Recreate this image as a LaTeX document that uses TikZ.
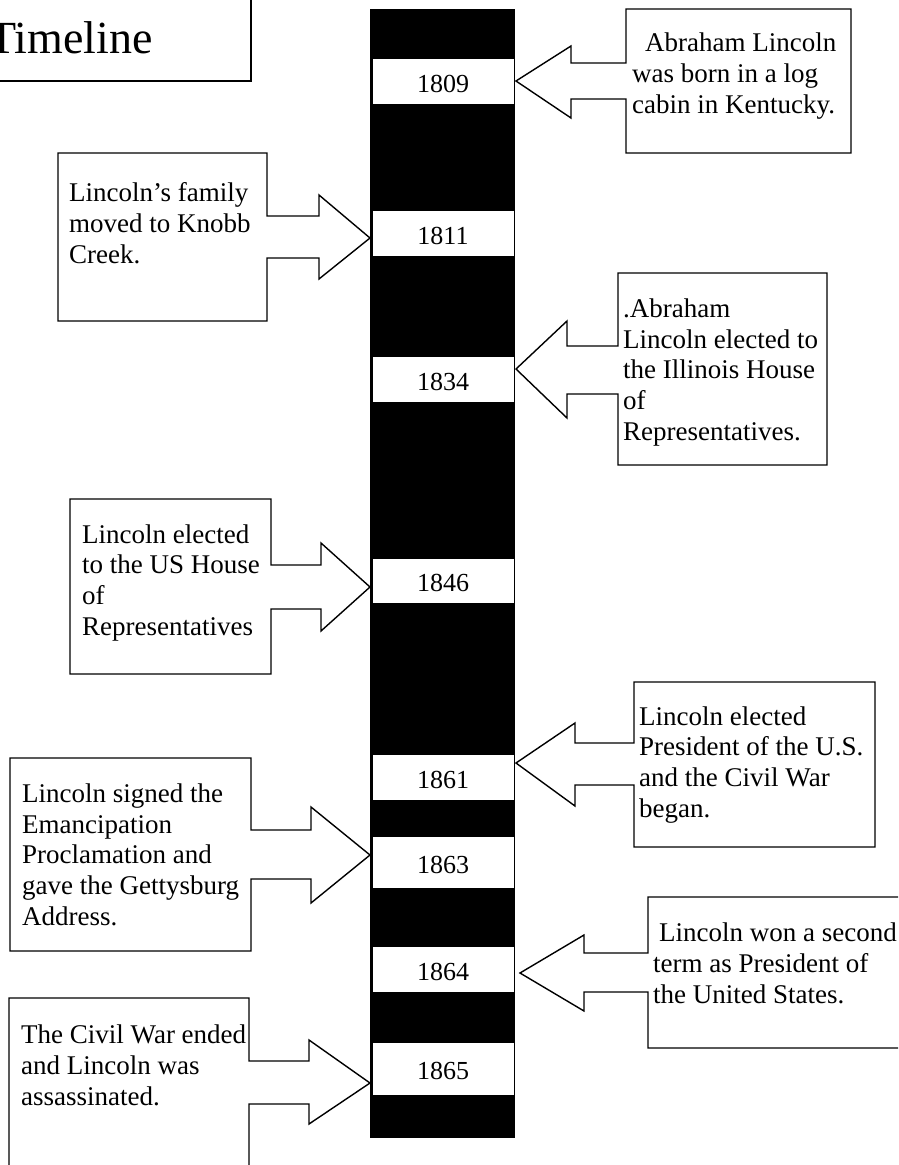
\documentclass[tikz,border=0pt]{standalone}
\usepackage{fontspec}
\setmainfont{Liberation Serif}
\usepackage{tikz}
\usetikzlibrary{positioning}
\tikzset{yearbox/.style = {draw, fill = white, line width = 0.8, inner sep = 0,
                           minimum width = 142, minimum height = 46,
                           text height = 22, text depth = 0,
                           font = \fontsize{26}{30}\selectfont}}
% anchor is the baseline of the last line
\tikzset{note/.style = {anchor = base west, align = left, inner sep = 0,
                        font = \fontsize{27}{30.6}\selectfont}}
\tikzset{callout/.style = {draw, fill = white, line width = 1.4, line join = miter}}

\begin{document}
\begin{tikzpicture}[x = 1pt, y = -1pt]
      \useasboundingbox (0, 0) rectangle (898, 1165);
      \clip (0, 0) rectangle (898, 1165);

      % title
      \draw [callout] (-10, -10) rectangle (251, 81);
      \node [note, font = \fontsize{46}{50}\selectfont] (title) at (-12, 53) {Timeline};

      % the bar
      \fill (370, 9) rectangle (515, 1138);
      \node [yearbox] (y1809) at (443, 81) {1809};
      \node [yearbox] (y1811) at (443, 233) {1811};
      \node [yearbox] (y1834) at (443, 379) {1834};
      \node [yearbox, minimum height = 45] (y1846) at (443, 580.5) {1846};
      \node [yearbox] (y1861) at (443, 777) {1861};
      \node [yearbox, minimum height = 52] (y1863) at (443, 862) {1863};
      \node [yearbox] (y1864) at (443, 969) {1864};
      \node [yearbox, minimum height = 53] (y1865) at (443, 1068.5) {1865};

      % callouts on the right
      \draw [callout] (626, 9) -- (851, 9) -- (851, 153) -- (626, 153) -- (626, 99)
            -- (571, 99) -- (571, 118) -- (516, 81) -- (571, 46) -- (571, 63) -- (626, 63) -- cycle;
      \draw [callout] (618, 273) -- (827, 273) -- (827, 465) -- (618, 465) -- (618, 394)
            -- (567, 394) -- (567, 418) -- (516, 369) -- (567, 321) -- (567, 346) -- (618, 346) -- cycle;
      \draw [callout] (634, 682) -- (875, 682) -- (875, 847) -- (634, 847) -- (634, 785)
            -- (575, 785) -- (575, 806) -- (516, 763) -- (575, 723) -- (575, 743) -- (634, 743) -- cycle;
      \draw [callout] (648, 897) -- (910, 897) -- (910, 1048) -- (648, 1048) -- (648, 992)
            -- (584, 992) -- (584, 1011) -- (520, 973) -- (584, 935) -- (584, 953) -- (648, 953) -- cycle;

      % callouts on the left
      \draw [callout] (267, 153) -- (58, 153) -- (58, 321) -- (267, 321) -- (267, 258)
            -- (319, 258) -- (319, 279) -- (370, 238) -- (319, 195) -- (319, 216) -- (267, 216) -- cycle;
      \draw [callout] (271, 499) -- (70, 499) -- (70, 674) -- (271, 674) -- (271, 609)
            -- (321, 609) -- (321, 631) -- (370, 587) -- (321, 543) -- (321, 565) -- (271, 565) -- cycle;
      \draw [callout] (251, 758) -- (10, 758) -- (10, 951) -- (251, 951) -- (251, 879)
            -- (311, 879) -- (311, 903) -- (370, 855) -- (311, 807) -- (311, 830) -- (251, 830) -- cycle;
      \draw [callout] (249, 998) -- (9, 998) -- (9, 1180) -- (249, 1180) -- (249, 1104)
            -- (309, 1104) -- (309, 1124) -- (370, 1083) -- (309, 1040) -- (309, 1061) -- (249, 1061) -- cycle;

      % texts
      \node [note] (born) at (632, 113) {\hspace*{13pt}Abraham Lincoln\\was born in a log\\cabin in Kentucky.};
      \node [note] (knobb) at (69, 263) {Lincoln’s family\\moved to Knobb\\Creek.};
      \node [note] (illinois) at (623, 440) {.Abraham\\Lincoln elected to\\the Illinois House\\of\\Representatives.};
      \node [note] (ushouse) at (82, 635) {Lincoln elected\\to the US House\\of\\Representatives};
      \node [note] (president) at (639, 817) {Lincoln elected\\President of the U.S.\\and the Civil War\\began.};
      \node [note] (gettysburg) at (22, 925) {Lincoln signed the\\Emancipation\\Proclamation and\\gave the Gettysburg\\Address.};
      \node [note] (second) at (653, 1003) {\hspace*{6pt}Lincoln won a second\\term as President of\\the United States.};
      \node [note] (ended) at (21, 1105) {The Civil War ended\\and Lincoln was\\assassinated.};
    \end{tikzpicture}
\end{document}
